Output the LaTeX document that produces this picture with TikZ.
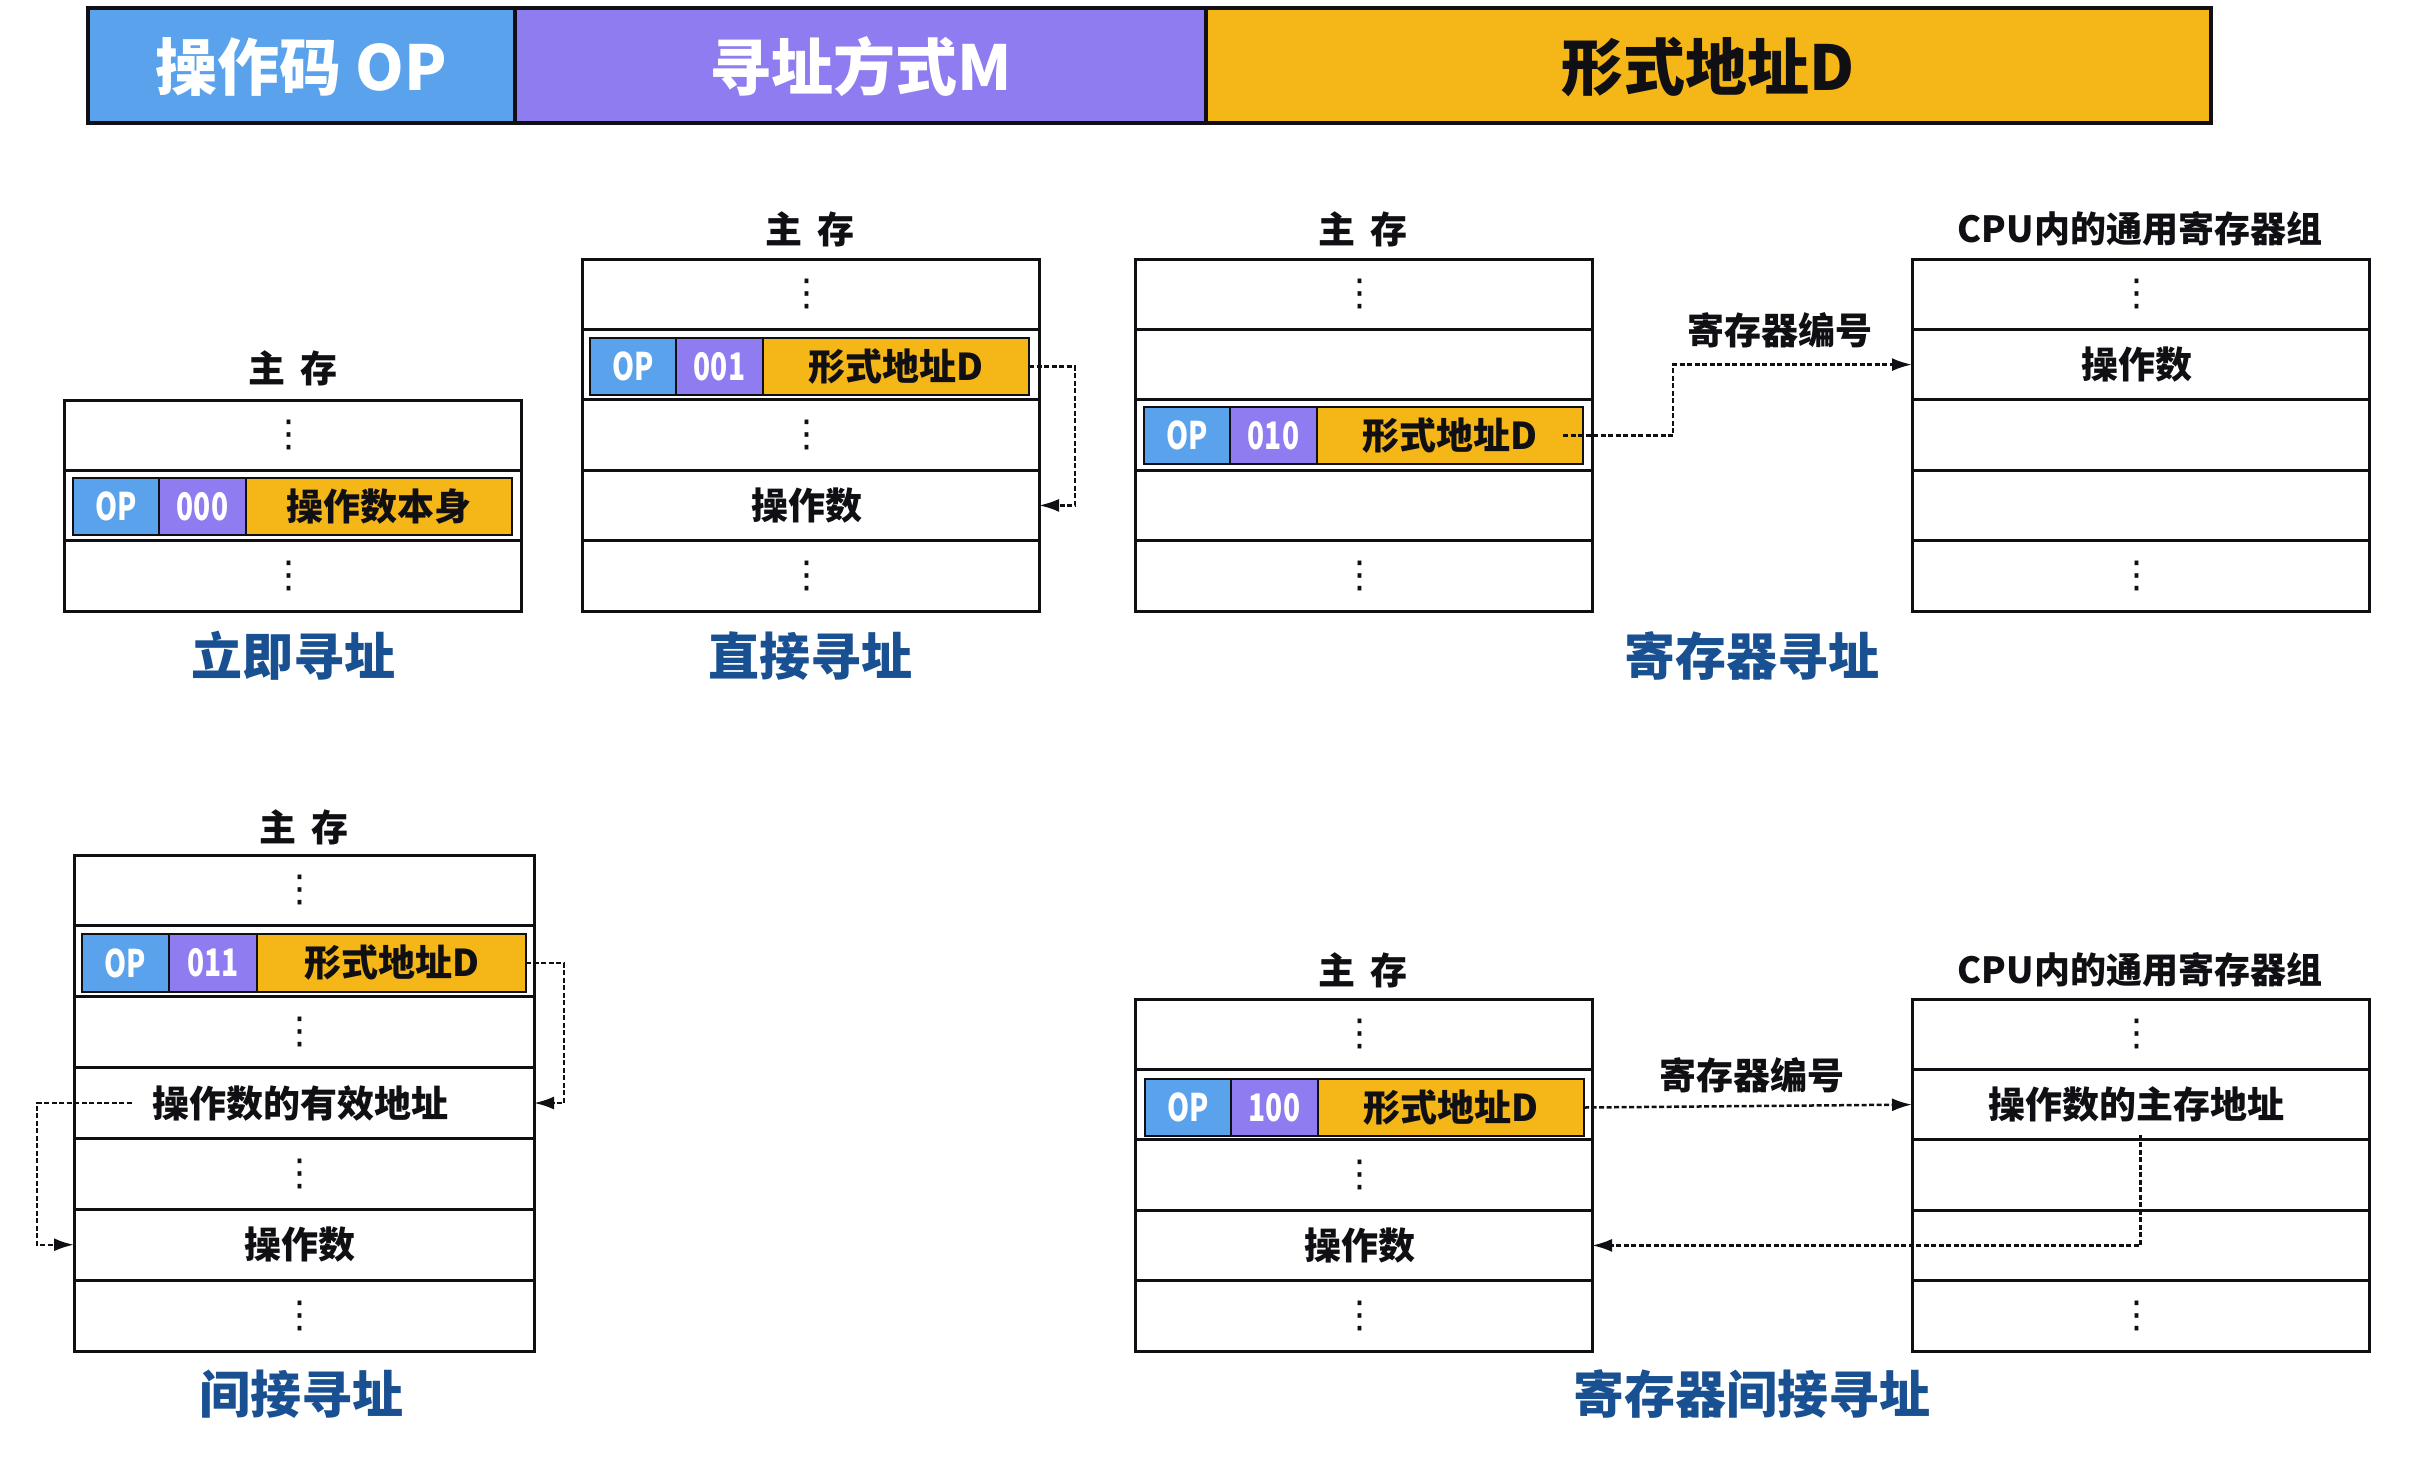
\documentclass[tikz,border=0pt]{standalone}
\usepackage{fontspec}
\usetikzlibrary{positioning,arrows.meta}
\setmainfont{Noto Sans CJK SC}
\newfontfamily\bitfont[FakeStretch=0.74]{Noto Sans CJK SC}
\newfontfamily\dotfont{DejaVu Sans}
\definecolor{opFill}{RGB}{90,163,236}
\definecolor{modeFill}{RGB}{142,124,240}
\definecolor{addrFill}{RGB}{245,182,24}
\definecolor{titleBlue}{RGB}{24,80,146}
\definecolor{inkBlack}{RGB}{15,15,20}
\newcommand{\sizedfont}[1]{\bfseries\fontsize{#1}{#1}\selectfont}
\newcommand{\rowdots}{{\dotfont\mdseries ⋮}}

\begin{document}
\begin{tikzpicture}[
  x=1pt,
  y=-1pt,
  headBox/.style={draw=inkBlack, line width=4pt, outer sep=0pt, inner sep=0pt, minimum height=115pt, text height=56pt, text depth=6pt},
  headLabel/.style={headBox, text=white, font=\sizedfont{62}},
  cell/.style={draw=inkBlack, line width=3pt, fill=white, outer sep=0pt, inner sep=0pt, anchor=north west, minimum width=\cw pt, minimum height=\ch pt},
  rowText/.style={font=\sizedfont{37}, text=inkBlack, inner sep=0pt},
  field/.style={draw=inkBlack, line width=2.5pt, outer sep=0pt, inner sep=0pt, minimum height=\bh pt},
  opBox/.style={field, fill=opFill, text=white, minimum width=\opw pt, font=\bitfont\sizedfont{38}},
  modeBox/.style={field, fill=modeFill, text=white, minimum width=\mdw pt, font=\bitfont\sizedfont{38}},
  addrBox/.style={field, fill=addrFill, text=inkBlack, minimum width=\adw pt, font=\sizedfont{37}},
  memTitle/.style={font={\sizedfont{37}\spaceskip=15pt}, text=inkBlack, inner sep=0pt},
  bankTitle/.style={font=\sizedfont{36}, text=inkBlack, inner sep=0pt},
  modeName/.style={font=\sizedfont{51}, text=titleBlue, inner sep=0pt},
  link/.style={draw=inkBlack, line width=2.5pt, dashed, dash pattern=on 5pt off 2.5pt, -{Latex[length=20pt,width=13pt]}}
]
  \useasboundingbox (0,0) rectangle (2419,1465);
  \def\cw{457}
  \def\ch{70.4}
  \def\bh{57}
  \def\opw{86}
  \def\mdw{87}
  \def\adw{266}

  % format bar
  \node[headLabel, fill=opFill, anchor=north west, minimum width=427pt] (headOp) at (88,8) {操作码 OP};
  \node[headLabel, fill=modeFill, minimum width=691pt, right=0pt of headOp] (headMode) {寻址方式M};
  \node[headLabel, fill=addrFill, text=inkBlack, minimum width=1005pt, right=0pt of headMode] (headAddr) {形式地址D};

  % immediate
  \begin{scope}[shift={(64,400)}, name prefix=imm-]
    \foreach \row/\txt in {1/\rowdots,2/,3/\rowdots} {
      \node[cell] (c\row) at (0,{(\row-1)*\ch}) {};
      \node[rowText] (t\row) at ([xshift=-4pt]c\row.center) {\txt};
    }
    \node[opBox, anchor=north west] (op) at (9,78) {OP};
    \node[modeBox, right=0pt of op] (mode) {000};
    \node[addrBox, right=0pt of mode] (addr) {操作数本身};
  \end{scope}
  \node[memTitle] (immMem) at (293,368) {主 存};
  \node[modeName] (immName) at (293,656) {立即寻址};

  % direct
  \begin{scope}[shift={(582,259)}, name prefix=dir-]
    \foreach \row/\txt in {1/\rowdots,2/,3/\rowdots,4/操作数,5/\rowdots} {
      \node[cell] (c\row) at (0,{(\row-1)*\ch}) {};
      \node[rowText] (t\row) at ([xshift=-4pt]c\row.center) {\txt};
    }
    \node[opBox, anchor=north west] (op) at (8,79) {OP};
    \node[modeBox, right=0pt of op] (mode) {001};
    \node[addrBox, right=0pt of mode] (addr) {形式地址D};
  \end{scope}
  \node[memTitle] (dirMem) at (810,229) {主 存};
  \node[modeName] (dirName) at (810,656) {直接寻址};
  \coordinate (dirTurn) at (1075,0);
  \draw[link] (dir-addr.east) -- (dirTurn |- dir-addr.east) -- (dirTurn |- dir-c4.east) -- (dir-c4.east);

  % register
  \begin{scope}[shift={(1135,259)}, name prefix=reg-]
    \foreach \row/\txt in {1/\rowdots,2/,3/,4/,5/\rowdots} {
      \node[cell] (c\row) at (0,{(\row-1)*\ch}) {};
      \node[rowText] (t\row) at ([xshift=-4pt]c\row.center) {\txt};
    }
    \node[opBox, anchor=north west] (op) at (9,148) {OP};
    \node[modeBox, right=0pt of op] (mode) {010};
    \node[addrBox, right=0pt of mode] (addr) {形式地址D};
  \end{scope}
  \begin{scope}[shift={(1912,259)}, name prefix=regBank-]
    \foreach \row/\txt in {1/\rowdots,2/操作数,3/,4/,5/\rowdots} {
      \node[cell] (c\row) at (0,{(\row-1)*\ch}) {};
      \node[rowText] (t\row) at ([xshift=-4pt]c\row.center) {\txt};
    }
  \end{scope}
  \node[memTitle] (regMem) at (1363,229) {主 存};
  \node[bankTitle] (regBank) at (2140,229) {CPU内的通用寄存器组};
  \node[rowText] (regNo) at (1780,330) {寄存器编号};
  \node[modeName] (regName) at (1752,656) {寄存器寻址};
  \coordinate (regTurn) at (1673,0);
  \draw[link, shorten <=-20pt] (reg-addr.east) -- (regTurn |- reg-addr.east) -- (regTurn |- regBank-c2.west) -- (regBank-c2.west);

  % indirect
  \begin{scope}[shift={(74,855)}, name prefix=ind-]
    \def\cw{460}
    \def\ch{70.86}
    \def\bh{58}
    \def\opw{87}
    \def\mdw{88}
    \def\adw{269}
    \foreach \row/\txt in {1/\rowdots,2/,3/\rowdots,4/操作数的有效地址,5/\rowdots,6/操作数,7/\rowdots} {
      \node[cell] (c\row) at (0,{(\row-1)*\ch}) {};
      \node[rowText] (t\row) at ([xshift=-4pt]c\row.center) {\txt};
    }
    \node[opBox, anchor=north west] (op) at (8,79) {OP};
    \node[modeBox, right=0pt of op] (mode) {011};
    \node[addrBox, right=0pt of mode] (addr) {形式地址D};
  \end{scope}
  \node[memTitle] (indMem) at (304,827) {主 存};
  \node[modeName] (indName) at (301,1394) {间接寻址};
  \coordinate (indTurnR) at (564,0);
  \coordinate (indTurnL) at (37,0);
  \draw[link] (ind-addr.east) -- (indTurnR |- ind-addr.east) -- (indTurnR |- ind-c4.east) -- (ind-c4.east);
  \draw[link, shorten <=20pt] (ind-t4.west) -- (indTurnL |- ind-t4.west) -- (indTurnL |- ind-c6.west) -- (ind-c6.west);

  % register indirect
  \begin{scope}[shift={(1135,999)}, name prefix=ri-]
    \foreach \row/\txt in {1/\rowdots,2/,3/\rowdots,4/操作数,5/\rowdots} {
      \node[cell] (c\row) at (0,{(\row-1)*\ch}) {};
      \node[rowText] (t\row) at ([xshift=-4pt]c\row.center) {\txt};
    }
    \node[opBox, anchor=north west] (op) at (10,80) {OP};
    \node[modeBox, right=0pt of op] (mode) {100};
    \node[addrBox, right=0pt of mode] (addr) {形式地址D};
  \end{scope}
  \begin{scope}[shift={(1912,999)}, name prefix=riBank-]
    \foreach \row/\txt in {1/\rowdots,2/操作数的主存地址,3/,4/,5/\rowdots} {
      \node[cell] (c\row) at (0,{(\row-1)*\ch}) {};
      \node[rowText] (t\row) at ([xshift=-4pt]c\row.center) {\txt};
    }
  \end{scope}
  \node[memTitle] (riMem) at (1363,970) {主 存};
  \node[bankTitle] (riBank) at (2140,970) {CPU内的通用寄存器组};
  \node[rowText] (riNo) at (1752,1075) {寄存器编号};
  \node[modeName] (riName) at (1752,1394) {寄存器间接寻址};
  \draw[link] (ri-addr.east) -- (riBank-c2.west);
  \draw[link, shorten <=-5pt] (riBank-c2.south) |- (ri-c4.east);
\end{tikzpicture}
\end{document}
